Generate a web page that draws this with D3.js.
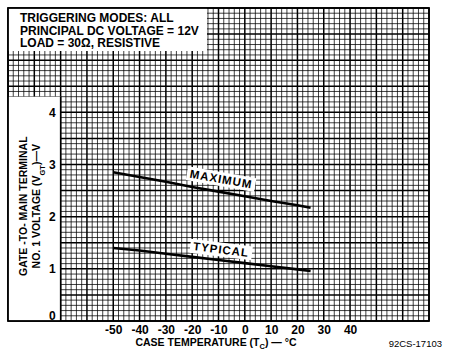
<!DOCTYPE html>
<html><head><meta charset="utf-8">
<script src="https://cdnjs.cloudflare.com/ajax/libs/d3/7.8.5/d3.min.js"></script>
<style>
html,body{margin:0;padding:0;background:#fff;}
svg{display:block;font-family:"Liberation Sans",Arial,sans-serif;font-weight:bold;}
</style></head>
<body><svg id="c" width="451" height="353"></svg>
<script>
const temps = [-50, -40, -30, -20, -10, 0, 10, 20, 25];
const maxVals = [2.85, 2.76, 2.67, 2.57, 2.48, 2.39, 2.30, 2.22, 2.17];
const typVals = [1.40, 1.35, 1.29, 1.23, 1.17, 1.11, 1.05, 0.99, 0.96];
const xTicks = [-50, -40, -30, -20, -10, 0, 10, 20, 30, 40];
const yTicks = [0, 1, 2, 3, 4];
const noteLines = ["TRIGGERING MODES: ALL", "PRINCIPAL DC VOLTAGE = 12V", "LOAD = 30\u03A9, RESISTIVE"];

const svg = d3.select("#c");
const x = d3.scaleLinear().domain([-90, 70]).range([8, 429]);
const y = d3.scaleLinear().domain([0, 6]).range([321, 8]);

// grid
const g = svg.append("g");
const vMinor = d3.range(-90, 70.001, 2);
const hMinor = d3.range(0, 6.0001, 0.1);
const isMajX = d => Math.abs(Math.round(d) % 10) === 0;
const isMajY = d => Math.abs(Math.round(d * 10) % 5) === 0;
g.selectAll(".vm").data(vMinor).join("line")
  .attr("x1", d => x(d)).attr("x2", d => x(d)).attr("y1", y(6)).attr("y2", y(0))
  .attr("stroke", "#000")
  .attr("stroke-opacity", d => isMajX(d) ? 1 : 0.75)
  .attr("stroke-width", d => isMajX(d) ? 1.5 : 1);
g.selectAll(".hm").data(hMinor).join("line")
  .attr("y1", d => y(d)).attr("y2", d => y(d)).attr("x1", x(-90)).attr("x2", x(70))
  .attr("stroke", "#000")
  .attr("stroke-opacity", d => isMajY(d) ? 1 : 0.75)
  .attr("stroke-width", d => isMajY(d) ? 1.5 : 1);

// white panels
svg.append("rect").attr("x", x(-90)).attr("y", y(6)).attr("width", 199).attr("height", 43).attr("fill", "#fff");
svg.append("rect").attr("x", x(-90)).attr("y", y(4.3)).attr("width", x(-70) - x(-90)).attr("height", y(0) - y(4.3)).attr("fill", "#fff");
svg.append("line").attr("x1", x(-70)).attr("x2", x(-70)).attr("y1", y(4.3)).attr("y2", y(0)).attr("stroke", "#000").attr("stroke-width", 1.5);

// outer frame
svg.append("rect").attr("x", x(-90)).attr("y", y(6)).attr("width", x(70) - x(-90)).attr("height", y(0) - y(6))
  .attr("fill", "none").attr("stroke", "#000").attr("stroke-width", 1.8);

// note text
svg.append("g").selectAll("text").data(noteLines).join("text")
  .attr("x", 20).attr("y", (d, i) => 22 + i * 12.7)
  .attr("font-size", 12).attr("fill", "#000").text(d => d);

// axes
const ax = svg.append("g").attr("transform", `translate(0,${y(0)})`)
  .call(d3.axisBottom(x).tickValues(xTicks).tickSize(0).tickPadding(4).tickFormat(d => d));
ax.select(".domain").remove();
ax.selectAll("text").attr("font-size", 12).attr("font-family", "Liberation Sans, Arial, sans-serif").attr("font-weight", "bold").attr("fill", "#000");

const ay = svg.append("g").attr("transform", `translate(${x(-70)},0)`)
  .call(d3.axisLeft(y).tickValues(yTicks).tickSize(0).tickPadding(5).tickFormat(d3.format("d")));
ay.select(".domain").remove();
ay.selectAll("text").attr("font-size", 12).attr("font-family", "Liberation Sans, Arial, sans-serif").attr("font-weight", "bold").attr("fill", "#000")
  .attr("dy", d => d === 0 ? "-0.15em" : "0.32em");

// y label
const yl = svg.append("text").attr("transform", `translate(27,${y(2.2)}) rotate(-90)`)
  .attr("text-anchor", "middle").attr("font-size", 10.5).attr("fill", "#000");
yl.append("tspan").attr("x", 0).attr("dy", 0).text("GATE -TO- MAIN TERMINAL");
const l2 = yl.append("tspan").attr("x", 0).attr("dy", 13);
l2.append("tspan").text("NO. 1 VOLTAGE (V");
l2.append("tspan").attr("font-size", 7.5).attr("baseline-shift", "sub").text("GT");
l2.append("tspan").text(")\u2014V");

// x label
const xl = svg.append("text").attr("x", 216).attr("y", 346).attr("text-anchor", "middle").attr("font-size", 10.5).attr("fill", "#000");
xl.append("tspan").text("CASE TEMPERATURE (T");
xl.append("tspan").attr("font-size", 7.5).attr("dy", 3).text("C");
xl.append("tspan").attr("dy", -3).text(") \u2014 \u00B0C");

svg.append("text").attr("x", 442).attr("y", 347).attr("text-anchor", "end").attr("font-size", 9.5).attr("font-weight", "normal").attr("fill", "#000").text("92CS-17103");

// curves
const line = d3.line().x(d => x(d[0])).y(d => y(d[1]));
[maxVals, typVals].forEach(vals => {
  svg.append("path").datum(temps.map((t, i) => [t, vals[i]])).attr("d", line)
    .attr("fill", "none").attr("stroke", "#000").attr("stroke-width", 2.6);
});

// curve labels
function curveLabel(t, v, ang, txt) {
  const gg = svg.append("g").attr("transform", `translate(${x(t)},${y(v)}) rotate(${ang})`);
  const tx = gg.append("text").attr("text-anchor", "middle").attr("dy", "0.35em").attr("font-size", 11.5).attr("fill", "#000").attr("letter-spacing", 1).text(txt);
  const bb = tx.node().getBBox();
  gg.insert("rect", "text").attr("x", bb.x - 3).attr("y", bb.y - 1).attr("width", bb.width + 6).attr("height", bb.height + 2).attr("fill", "#fff");
}
curveLabel(-9, 2.72, 10, "MAXIMUM");
curveLabel(-9, 1.37, 7, "TYPICAL");
</script></body></html>
